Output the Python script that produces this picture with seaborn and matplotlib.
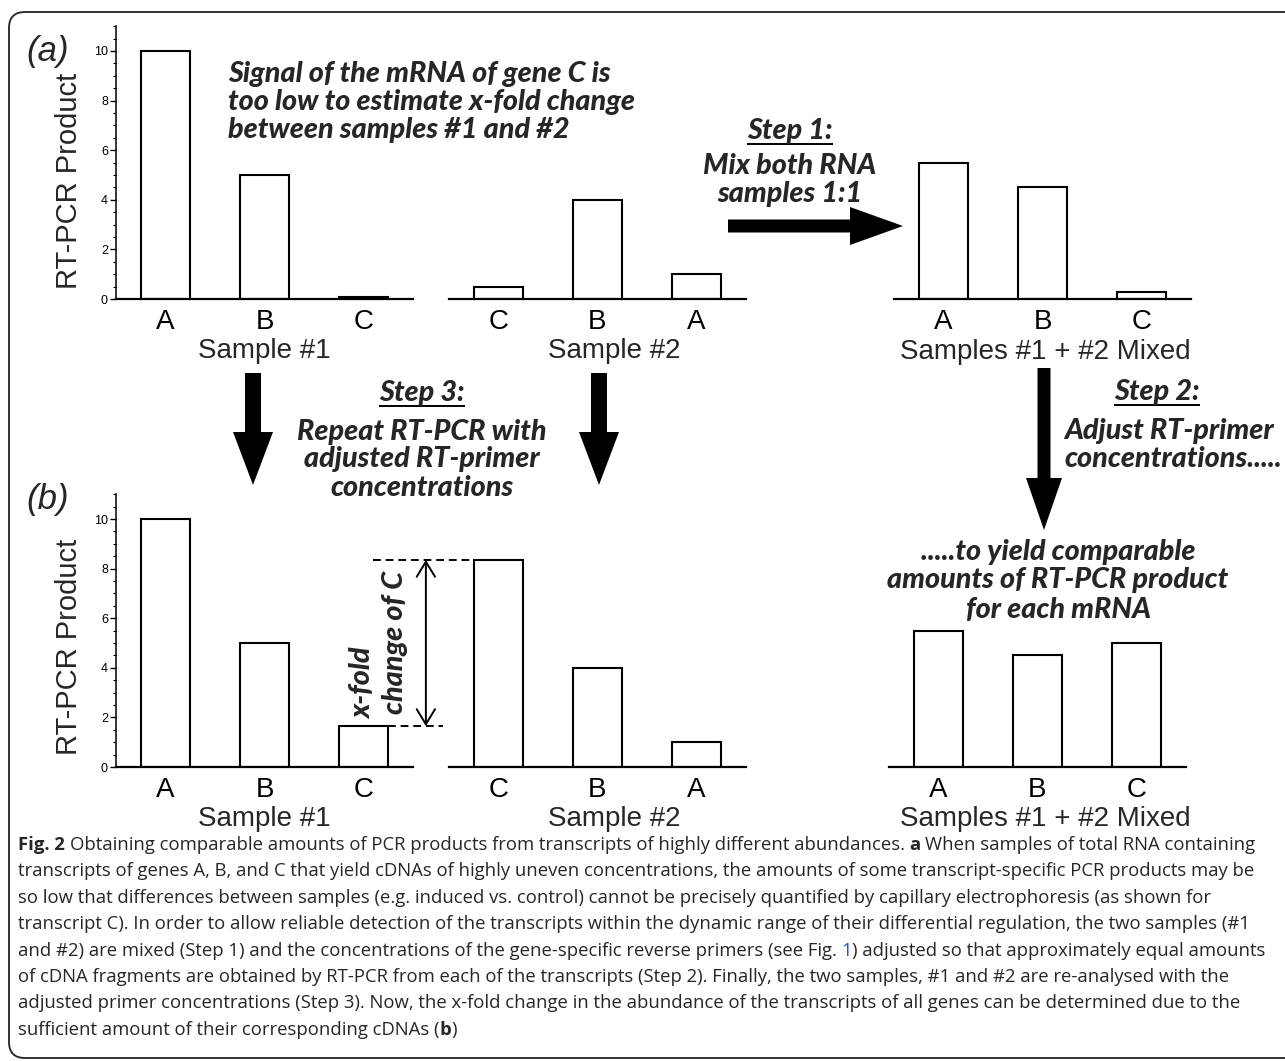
import matplotlib
matplotlib.use("Agg")
import matplotlib.pyplot as plt
from matplotlib import font_manager as fm
from matplotlib.font_manager import FontProperties
from matplotlib.patches import FancyArrow, FancyBboxPatch, FancyArrowPatch
from matplotlib.ticker import MultipleLocator, FixedLocator
import numpy as np
import pandas as pd
import seaborn as sns

# ---------------- data ----------------
order_s1 = ["A", "B", "C"]
order_s2 = ["C", "B", "A"]
order_mix = ["A", "B", "C"]

a_sample1 = [10.0, 5.0, 0.1]
a_sample2 = [0.5, 4.0, 1.0]
a_mixed = [5.5, 4.5, 0.3]

b_sample1 = [10.0, 5.0, 1.65]
b_sample2 = [8.35, 4.0, 1.0]
b_mixed = [5.5, 4.5, 5.0]

y_major = [0, 2, 4, 6, 8, 10]
y_title = "RT-PCR Product"
group_names = ["Sample #1", "Sample #2", "Samples #1 + #2 Mixed"]
panel_tags = ["(a)", "(b)"]

signal_lines = ["Signal of the mRNA of gene C is",
                "too low to estimate x-fold change",
                "between samples #1 and #2"]
step1_lines = ["Step 1:", "Mix both RNA", "samples 1:1"]
step2_lines = ["Step 2:", "Adjust RT-primer", "concentrations....."]
step3_lines = ["Step 3:", "Repeat RT-PCR with", "adjusted RT-primer", "concentrations"]
yield_lines = [".....to yield comparable", "amounts of RT-PCR product", "for each mRNA"]
xfold_lines = ["x-fold", "change of C"]

caption = [
    [("Fig. 2", "b"), (" Obtaining comparable amounts of PCR products from transcripts of highly different abundances. ", "n"),
     ("a", "b"), (" When samples of total RNA containing", "n")],
    [("transcripts of genes A, B, and C that yield cDNAs of highly uneven concentrations, the amounts of some transcript-specific PCR products may be", "n")],
    [("so low that differences between samples (e.g. induced vs. control) cannot be precisely quantified by capillary electrophoresis (as shown for", "n")],
    [("transcript C). In order to allow reliable detection of the transcripts within the dynamic range of their differential regulation, the two samples (#1", "n")],
    [("and #2) are mixed (Step 1) and the concentrations of the gene-specific reverse primers (see Fig. ", "n"), ("1", "l"),
     (") adjusted so that approximately equal amounts", "n")],
    [("of cDNA fragments are obtained by RT-PCR from each of the transcripts (Step 2). Finally, the two samples, #1 and #2 are re-analysed with the", "n")],
    [("adjusted primer concentrations (Step 3). Now, the x-fold change in the abundance of the transcripts of all genes can be determined due to the", "n")],
    [("sufficient amount of their corresponding cDNAs (", "n"), ("b", "b"), (")", "n")],
]

# ---------------- fonts ----------------
names = {f.name for f in fm.fontManager.ttflist}


def pick(cands, default):
    for c in cands:
        if c in names:
            return c
    return default


def pick_heavy_italic():
    prefs = [("Lato", 800), ("Open Sans", 800), ("DejaVu Sans", 700)]
    for prefix, wmin in prefs:
        hits = [f for f in fm.fontManager.ttflist
                if f.name.startswith(prefix) and f.style in ("italic", "oblique")
                and isinstance(f.weight, int) and f.weight >= wmin
                and "condensed" not in str(f.stretch)]
        if hits:
            hits.sort(key=lambda f: (abs(f.weight - 850), f.name))
            return hits[0].fname
    return None


SANS = pick(["Liberation Sans", "Arial"], "DejaVu Sans")
CAPF = pick(["Open Sans", "Noto Sans"], "DejaVu Sans")
COMIC_FILE = pick_heavy_italic()

sns.set_style("white")
plt.rcParams["font.family"] = [SANS, "DejaVu Sans"]

W, H = 1285, 1061
fig = plt.figure(figsize=(W / 100, H / 100), dpi=100)
fig.patch.set_facecolor("white")

ov = fig.add_axes([0, 0, 1, 1])
ov.set_xlim(0, W)
ov.set_ylim(H, 0)
ov.axis("off")
ov.set_zorder(5)
ov.patch.set_alpha(0)

renderer = fig.canvas.get_renderer()

UNIT = 24.8
YMAX = 11


def make_ax(x0, width, y_base):
    return fig.add_axes([x0 / W, 1 - y_base / H, width / W, YMAX * UNIT / H])


def bars(ax, order, vals, yaxis):
    df = pd.DataFrame({"gene": order, "value": vals})
    sns.barplot(data=df, x="gene", y="value", order=order, color="white",
                edgecolor="black", linewidth=1.5, width=0.5, errorbar=None,
                saturation=1, ax=ax)
    ax.set_xlim(-0.5, 2.5)
    ax.set_ylim(0, YMAX)
    ax.set_xlabel("")
    ax.set_ylabel("")
    ax.patch.set_alpha(0)
    for s in ("top", "right"):
        ax.spines[s].set_visible(False)
    ax.spines["bottom"].set_linewidth(1.6)
    ax.spines["bottom"].set_color("black")
    ax.tick_params(axis="x", length=0, pad=7, labelsize=20, colors="black")
    if yaxis:
        ax.spines["left"].set_linewidth(1.1)
        ax.spines["left"].set_color("black")
        ax.yaxis.set_major_locator(FixedLocator(y_major))
        ax.yaxis.set_minor_locator(MultipleLocator(0.5))
        ax.tick_params(axis="y", which="major", direction="out", length=4.3,
                       width=1, pad=1.5, labelsize=9, left=True, colors="black")
        ax.tick_params(axis="y", which="minor", direction="out", length=2.2,
                       width=0.8, left=True, colors="black")
    else:
        ax.spines["left"].set_visible(False)
        ax.set_yticks([])


a1 = make_ax(116, 297, 299)
a2 = make_ax(449, 297, 299)
a3 = make_ax(894, 297, 299)
b1 = make_ax(116, 297, 767)
b2 = make_ax(449, 297, 767)
b3 = make_ax(889, 297, 767)

bars(a1, order_s1, a_sample1, True)
bars(a2, order_s2, a_sample2, False)
bars(a3, order_mix, a_mixed, False)
bars(b1, order_s1, b_sample1, True)
bars(b2, order_s2, b_sample2, False)
bars(b3, order_mix, b_mixed, False)

# ---------------- helpers ----------------


def text_w(s, **kw):
    t = ov.text(0, 0, s, **kw)
    bb = t.get_window_extent(renderer)
    t.remove()
    return bb.width


def adv(s, **kw):
    return text_w("|" + s + "|", **kw) - text_w("||", **kw)


def underline(t):
    bb = t.get_window_extent(renderer)
    inv = ov.transData.inverted()
    (x0, y0), (x1, y1) = inv.transform([[bb.x0, bb.y0], [bb.x1, bb.y1]])
    yb = max(y0, y1) - 0.5
    ov.plot([min(x0, x1), max(x0, x1)], [yb, yb], color="black", lw=1.4,
            solid_capstyle="butt")


def P(ax, x, y):
    return ov.transData.inverted().transform(ax.transData.transform((x, y)))


# ---------------- border ----------------
ov.add_patch(FancyBboxPatch((9, 12), 1320, 1046,
                            boxstyle="round,pad=0,rounding_size=16",
                            fill=False, ec="#222222", lw=1.3, clip_on=False))

# ---------------- labels ----------------
for tag, yc in zip(panel_tags, [51, 500]):
    ov.text(48, yc, tag, fontsize=25, style="italic", ha="center", va="center")
for yc in [181, 647]:
    ov.text(69, yc, y_title, fontsize=21, rotation=90, ha="center", va="center")

for (x, y), name in zip([(264.5, 358), (614, 358), (1045, 359)], group_names):
    ov.text(x, y, name, fontsize=20, ha="center", va="baseline")
for (x, y), name in zip([(264.5, 826), (614, 826), (1045, 826)], group_names):
    ov.text(x, y, name, fontsize=20, ha="center", va="baseline")

# ---------------- comic annotations ----------------


def comic_fp(size):
    if COMIC_FILE:
        return FontProperties(fname=COMIC_FILE, size=size)
    return FontProperties(family="DejaVu Sans", weight="bold", style="italic", size=size)


cs = 14 * 408 / text_w(signal_lines[1], fontproperties=comic_fp(14))
CK = dict(fontproperties=comic_fp(cs))

for line, y in zip(signal_lines, [74, 102, 130]):
    ov.text(228, y, line, ha="left", va="center", **CK)

for i, (line, y) in enumerate(zip(step1_lines, [131, 166, 194])):
    t = ov.text(790, y, line, ha="center", va="center", **CK)
    if i == 0:
        underline(t)

for i, (line, y) in enumerate(zip(step3_lines, [393, 432, 459, 488])):
    t = ov.text(422, y, line, ha="center", va="center", **CK)
    if i == 0:
        underline(t)

t = ov.text(1157, 392, step2_lines[0], ha="center", va="center", **CK)
underline(t)
for line, y in zip(step2_lines[1:], [431, 459]):
    ov.text(1064, y, line, ha="left", va="center", **CK)

for line, y in zip(yield_lines, [552, 580, 610]):
    ov.text(1058, y, line, ha="center", va="center", **CK)

ov.text(363, 683, xfold_lines[0], rotation=90, ha="center", va="center", **CK)
ov.text(395, 642, xfold_lines[1], rotation=90, ha="center", va="center", **CK)

# ---------------- arrows ----------------
ak = dict(length_includes_head=True, color="black", lw=0)
ov.add_patch(FancyArrow(728, 226, 175, 0, width=13, head_width=38, head_length=53, **ak))
ov.add_patch(FancyArrow(253, 373, 0, 112, width=16, head_width=40, head_length=53, **ak))
ov.add_patch(FancyArrow(599, 373, 0, 112, width=16, head_width=40, head_length=53, **ak))
ov.add_patch(FancyArrow(1044, 368, 0, 162, width=13, head_width=36, head_length=52, **ak))

# dashed guide lines and x-fold arrow (panel b)
v_top = b_sample2[order_s2.index("C")]
v_bot = b_sample1[order_s1.index("C")]
p0 = P(b1, 2.1, v_top)
p1 = P(b2, -0.25, v_top)
ov.plot([p0[0], p1[0]], [p0[1], p1[1]], color="black", lw=1.4, ls=(0, (4, 2.5)))
q0 = P(b1, 2.25, v_bot)
q1 = P(b1, 2.8, v_bot)
ov.plot([q0[0], q1[0]], [q0[1], q1[1]], color="black", lw=1.4, ls=(0, (4, 2.5)))
r0 = P(b1, 2.63, v_top)
r1 = P(b1, 2.63, v_bot)
ov.add_patch(FancyArrowPatch(tuple(r0), tuple(r1),
                             arrowstyle="<->,head_length=0.9,head_width=0.55",
                             mutation_scale=12, lw=1.4, color="black",
                             shrinkA=0, shrinkB=0))

# ---------------- caption ----------------
CAPK = dict(family=[CAPF, "DejaVu Sans"])
CAP_LEFT, CAP_RIGHT = 18, 1266


def seg_kw(kind, size):
    kw = dict(fontsize=size, **CAPK)
    if kind == "b":
        kw["weight"] = "bold"
    if kind == "l":
        kw["color"] = "#2a52d6"
    return kw


def draw_caption(size):
    made = []
    for i, segs in enumerate(caption):
        y = 850 + 26.4 * i
        x = CAP_LEFT
        for s, k in segs:
            kw = seg_kw(k, size)
            lead = len(s) - len(s.lstrip(" "))
            xd = x + (adv(s[:lead], **kw) if lead else 0)
            if s.strip():
                made.append(ov.text(xd, y, s.strip(), ha="left", va="baseline", **kw))
            x += adv(s, **kw)
    inv = ov.transData.inverted()
    right = max(inv.transform((t.get_window_extent(renderer).x1, 0))[0] for t in made)
    return made, right


csz = 12.0
for _ in range(3):
    made, right = draw_caption(csz)
    if abs(right - CAP_RIGHT) < 1.5:
        break
    for t in made:
        t.remove()
    csz *= (CAP_RIGHT - CAP_LEFT) / (right - CAP_LEFT)
else:
    pass

fig.savefig("out.png", dpi=100, facecolor="white")
